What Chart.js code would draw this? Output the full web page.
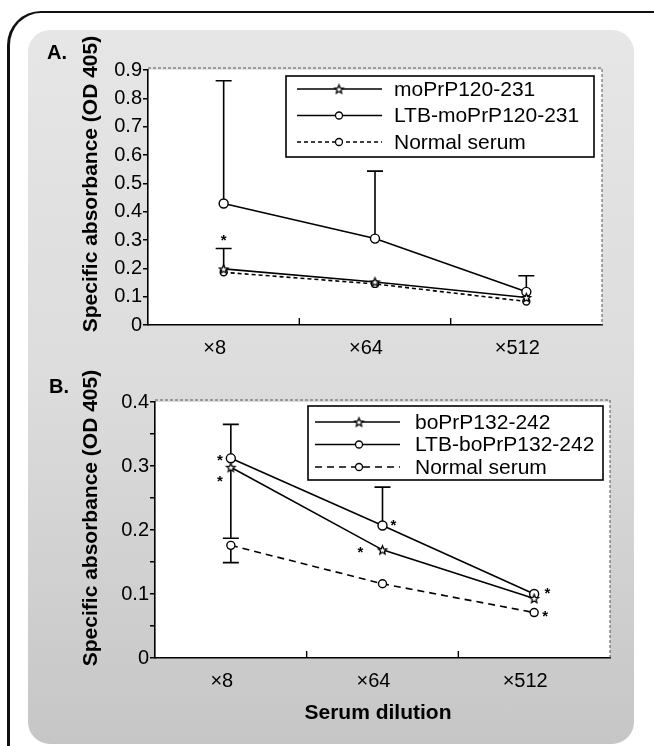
<!DOCTYPE html>
<html><head><meta charset="utf-8">
<script src="https://cdn.jsdelivr.net/npm/chart.js@4.4.0/dist/chart.umd.min.js"></script>
<style>
html,body{margin:0;padding:0;width:654px;height:746px;overflow:hidden;background:#fff;}
#frame{position:absolute;left:7px;top:11px;width:720px;height:800px;border-top:2px solid #111;border-left:3px solid #111;border-top-left-radius:34px;box-sizing:border-box;}
#stipple{position:absolute;left:28px;top:30px;width:606px;height:714px;border-radius:22px;background:linear-gradient(#e6e6e6,#dcdcdc 50%,#c6c6c6);}
canvas{position:absolute;left:0;}
#ca{top:0;} #cb{top:370px;}
</style></head>
<body>
<div id="frame"></div>
<div id="stipple"></div>
<canvas id="ca" width="654" height="370"></canvas>
<canvas id="cb" width="654" height="376"></canvas>
<script>
// ---------- data ----------
const dilutions = ['×8', '×64', '×512'];

// Panel A
const namesA = ['moPrP120-231', 'LTB-moPrP120-231', 'Normal serum'];
const moPrP = [0.198, 0.152, 0.097];
const ltbMoPrP = [0.429, 0.305, 0.117];
const normalA = [0.186, 0.145, 0.083];
const moPrPErrUp = [0.27, null, null];
const ltbMoPrPErrUp = [0.862, 0.543, 0.174];
const yTicksA = [0, 0.1, 0.2, 0.3, 0.4, 0.5, 0.6, 0.7, 0.8, 0.9];
const asterisksA = [{i: 0, v: 0.312, side: 0}];

// Panel B
const namesB = ['boPrP132-242', 'LTB-boPrP132-242', 'Normal serum'];
const boPrP = [0.298, 0.169, 0.093];
const ltbBoPrP = [0.312, 0.207, 0.100];
const normalB = [0.176, 0.116, 0.071];
const ltbBoPrPErrUp = [0.365, 0.267, null];
const boPrPErrDown = [0.187, null, null];
const normalBErrDown = [0.149, null, null];
const yTicksB = [0, 0.05, 0.1, 0.15, 0.2, 0.25, 0.3, 0.35, 0.4];
const yTickLabelsB = ['0', '', '0.1', '', '0.2', '', '0.3', '', '0.4'];
const asterisksB = [
  {i: 0, v: 0.315, side: -1}, {i: 0, v: 0.281, side: -1},
  {i: 1, v: 0.212, side: 1}, {i: 1, v: 0.171, side: -2},
  {i: 2, v: 0.107, side: 1.2}, {i: 2, v: 0.071, side: 1}
];

const FONT = "'Liberation Sans', Arial, Helvetica, sans-serif";

// ---------- markers ----------
function makeStar(r) {
  const s = Math.ceil(r * 2 + 4);
  const c = document.createElement('canvas');
  c.width = s; c.height = s;
  const g = c.getContext('2d');
  g.translate(s / 2, s / 2 + 0.5);
  g.beginPath();
  for (let k = 0; k < 10; k++) {
    const rr = k % 2 ? r * 0.45 : r;
    const a = -Math.PI / 2 + k * Math.PI / 5;
    g.lineTo(rr * Math.cos(a), rr * Math.sin(a));
  }
  g.closePath();
  g.fillStyle = '#fff'; g.fill();
  g.lineWidth = 1.3; g.strokeStyle = '#000'; g.stroke();
  return c;
}
const starImg = makeStar(4.5);

function ds(label, data, style, radius, dash, extra) {
  return Object.assign({
    label, data,
    borderColor: '#000', borderWidth: 1.6, tension: 0,
    borderDash: dash || [],
    pointStyle: style, pointRadius: radius, pointHoverRadius: radius,
    pointBackgroundColor: '#fff', pointBorderColor: '#000', pointBorderWidth: 1.4
  }, extra || {});
}

// ---------- decoration plugin ----------
const decor = {
  id: 'decor',
  beforeDraw(chart) {
    const a = chart.chartArea, ctx = chart.ctx;
    ctx.save(); ctx.fillStyle = '#fff';
    ctx.fillRect(a.left, a.top, a.right - a.left, a.bottom - a.top);
    ctx.restore();
  },
  beforeDatasetsDraw(chart) {
    const ctx = chart.ctx, xs = chart.scales.x, ys = chart.scales.y;
    ctx.save(); ctx.strokeStyle = '#000'; ctx.lineWidth = 1.6;
    chart.data.datasets.forEach(d => {
      ['errUp', 'errDown'].forEach(key => {
        const arr = d[key]; if (!arr) return;
        arr.forEach((e, i) => {
          if (e == null) return;
          const x = xs.getPixelForValue(i), y0 = ys.getPixelForValue(d.data[i]), y1 = ys.getPixelForValue(e);
          ctx.beginPath(); ctx.moveTo(x, y0); ctx.lineTo(x, y1);
          ctx.moveTo(x - 8, y1); ctx.lineTo(x + 8, y1); ctx.stroke();
        });
      });
    });
    ctx.restore();
  },
  afterDraw(chart, args, o) {
    const ctx = chart.ctx, a = chart.chartArea, xs = chart.scales.x, ys = chart.scales.y;
    ctx.save();
    // inner x tick marks at category boundaries
    ctx.strokeStyle = '#000'; ctx.lineWidth = 1.4;
    for (let i = 1; i < dilutions.length; i++) {
      const x = (xs.getPixelForValue(i - 1) + xs.getPixelForValue(i)) / 2;
      ctx.beginPath(); ctx.moveTo(x, a.bottom); ctx.lineTo(x, a.bottom - 7); ctx.stroke();
    }
    // faint top/right frame
    ctx.strokeStyle = '#555'; ctx.lineWidth = 1; ctx.setLineDash([3, 2]);
    ctx.beginPath(); ctx.moveTo(a.left, a.top - 2); ctx.lineTo(a.right, a.top - 2); ctx.lineTo(a.right, a.bottom); ctx.stroke();
    ctx.setLineDash([]);
    // legend
    const L = o.legend;
    ctx.fillStyle = '#fff'; ctx.strokeStyle = '#000'; ctx.lineWidth = 1.6;
    ctx.fillRect(L.x, L.y, L.w, L.h); ctx.strokeRect(L.x, L.y, L.w, L.h);
    chart.data.datasets.forEach((d, k) => {
      const y = L.y + L.first + k * L.rowH;
      ctx.strokeStyle = '#000'; ctx.lineWidth = 1.6; ctx.setLineDash(d.borderDash || []);
      ctx.beginPath(); ctx.moveTo(L.x + L.l0, y); ctx.lineTo(L.x + L.l1, y); ctx.stroke();
      ctx.setLineDash([]);
      ctx.fillStyle = '#fff'; ctx.lineWidth = 1.3;
      Chart.helpers.drawPoint(ctx, {pointStyle: d.pointStyle, rotation: 0, radius: 3.5, borderWidth: 1.3}, L.x + L.m, y);
      ctx.fillStyle = '#000'; ctx.font = L.font + 'px ' + FONT;
      ctx.textAlign = 'left'; ctx.textBaseline = 'middle';
      ctx.fillText(d.label, L.x + L.t, y + 1);
    });
    // asterisks
    ctx.fillStyle = '#000'; ctx.font = 'bold 15px ' + FONT; ctx.textAlign = 'center'; ctx.textBaseline = 'middle';
    (o.asterisks || []).forEach(s => {
      const x = xs.getPixelForValue(s.i) + s.side * 11, y = ys.getPixelForValue(s.v);
      ctx.fillText('*', x, y + 4);
    });
    // y title
    ctx.font = 'bold 21px ' + FONT;
    ctx.translate(o.yTitle.x, o.yTitle.y); ctx.rotate(-Math.PI / 2);
    ctx.fillText('Specific absorbance (OD 405)', 0, 0);
    ctx.setTransform(1, 0, 0, 1, 0, 0);
    // panel label
    ctx.font = 'bold 20px ' + FONT; ctx.textAlign = 'left';
    ctx.fillText(o.panel.text, o.panel.x, o.panel.y);
    if (o.xTitle) {
      ctx.font = 'bold 21px ' + FONT; ctx.textAlign = 'center';
      ctx.fillText(o.xTitle.text, o.xTitle.x, o.xTitle.y);
    }
    ctx.restore();
  }
};

function makeOptions(yTicks, yLabels, pad, extra) {
  return {
    responsive: false, animation: false, events: [],
    layout: {padding: pad},
    plugins: {legend: {display: false}, tooltip: {enabled: false}, decor: extra},
    scales: {
      x: {
        type: 'category', offset: true,
        grid: {display: false, drawTicks: false},
        border: {display: true, color: '#000', width: 1.6},
        ticks: {color: '#000', font: {family: FONT, size: 20}, padding: 11, labelOffset: -9, maxRotation: 0},
        afterFit: s => { s.height = 35; }
      },
      y: {
        min: yTicks[0], max: yTicks[yTicks.length - 1],
        afterBuildTicks: s => { s.ticks = yTicks.map(v => ({value: v})); },
        grid: {drawOnChartArea: false, drawTicks: true, tickLength: 5, color: '#000', lineWidth: 1.5},
        border: {display: true, color: '#000', width: 1.6},
        ticks: {color: '#000', font: {family: FONT, size: 20}, padding: 1,
          callback: (v, i) => yLabels[i]},
        afterFit: s => { s.width = 60; }
      }
    }
  };
}

new Chart(document.getElementById('ca'), {
  type: 'line',
  data: {
    labels: dilutions,
    datasets: [
      ds(namesA[0], moPrP, starImg, 4, [], {errUp: moPrPErrUp}),
      ds(namesA[1], ltbMoPrP, 'circle', 4.5, [], {errUp: ltbMoPrPErrUp}),
      ds(namesA[2], normalA, 'circle', 3.5, [4, 3])
    ]
  },
  options: makeOptions(yTicksA, yTicksA.map(String), {left: 88, right: 52, top: 70, bottom: 10}, {
    legend: {x: 286, y: 76, w: 308, h: 81, first: 13, rowH: 26.5, l0: 11, l1: 96, m: 53, t: 108, font: 21},
    asterisks: asterisksA,
    yTitle: {x: 91, y: 184},
    panel: {text: 'A.', x: 47, y: 53}
  }),
  plugins: [decor]
});

new Chart(document.getElementById('cb'), {
  type: 'line',
  data: {
    labels: dilutions,
    datasets: [
      ds(namesB[0], boPrP, starImg, 4, [], {errDown: boPrPErrDown}),
      ds(namesB[1], ltbBoPrP, 'circle', 4.5, [], {errUp: ltbBoPrPErrUp}),
      ds(namesB[2], normalB, 'circle', 4, [7, 5], {errDown: normalBErrDown})
    ]
  },
  options: makeOptions(yTicksB, yTickLabelsB, {left: 95, right: 44, top: 32, bottom: 53}, {
    legend: {x: 308, y: 36, w: 295, h: 74, first: 16, rowH: 22.5, l0: 7, l1: 92, m: 51, t: 107, font: 21},
    asterisks: asterisksB,
    yTitle: {x: 91, y: 148},
    panel: {text: 'B.', x: 49, y: 17},
    xTitle: {text: 'Serum dilution', x: 378, y: 343}
  }),
  plugins: [decor]
});
</script>
</body></html>
